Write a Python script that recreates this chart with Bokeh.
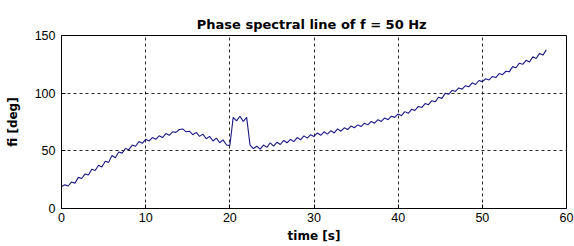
from bokeh.plotting import figure
from bokeh.models import FixedTicker, Range1d
from bokeh.embed import file_html
from bokeh.resources import INLINE

# sampling grid of the recorded signal
t_start = 0.0
t_step = 0.4

# phase of the 50 Hz spectral line [deg]
phase = [
    19, 20.5, 19.5, 23, 22, 27, 26, 30, 29, 34,
    33, 37.5, 36, 41, 40, 46, 44, 49, 48, 52,
    51, 55, 54, 58, 56.5, 60, 58.5, 61.5, 60, 63,
    61.5, 65, 63.5, 66.5, 66, 68.5, 69, 66.5, 67, 64,
    66, 62.5, 64.5, 60.5, 62.5, 58.5, 61, 57, 59.5, 55,
    54.5, 79, 76, 80, 75.5, 79, 55, 52, 54, 51.5,
    55, 53, 57, 54, 57.5, 55.5, 59, 57, 60, 58,
    61.5, 59.5, 63, 61, 64, 62.5, 65.5, 63.5, 66.5, 64.5,
    67.5, 65.5, 69, 67, 70, 68.5, 71.5, 70, 72.5, 71,
    74, 72.5, 75.5, 74, 77, 75.5, 78.5, 77, 80, 79,
    82, 80.5, 84, 82.5, 86, 85, 88.5, 87.5, 91, 90,
    93.5, 92.5, 96.5, 95.5, 100, 99, 102.5, 101.5, 104.5, 103.5,
    106.5, 105.5, 109, 107.5, 111, 110, 112.5, 111.5, 114.5, 113.5,
    117, 116, 119, 118.5, 123, 122, 126, 125, 128.5, 127,
    131.5, 130, 134.5, 133, 137.5,
]
time = [round(t_start + t_step * i, 2) for i in range(len(phase))]

x_ticks = [0, 10, 20, 30, 40, 50, 60]
y_ticks = [0, 50, 100, 150]

title = "Phase spectral line of  f = 50 Hz"
x_label = "time [s]"
y_label = "fi [deg]"

FONT = "Liberation Sans"
BOLD_FONT = "DejaVu Sans"

p = figure(width=574, height=246, output_backend="svg", toolbar_location=None,
           x_range=Range1d(0, 60), y_range=Range1d(0, 150),
           title=title, min_border_left=61, min_border_right=8,
           min_border_top=35, min_border_bottom=38)

p.title.align = "center"
p.title.text_font = BOLD_FONT
p.title.text_font_size = "13px"
p.title.text_font_style = "bold"
p.title.text_color = "black"
p.title.offset = 0
p.title.standoff = 8

p.line(time, phase, line_color="#1a1a86", line_width=1.1)

p.outline_line_color = "black"
p.outline_line_width = 1
p.outline_line_alpha = 1

for ax, ticks in ((p.xaxis, x_ticks), (p.yaxis, y_ticks)):
    ax.ticker = FixedTicker(ticks=ticks)
    ax.major_tick_in = 4
    ax.major_tick_out = 0
    ax.minor_tick_line_color = None
    ax.axis_line_color = "black"
    ax.major_tick_line_color = "black"
    ax.major_label_text_font = FONT
    ax.major_label_text_font_size = "12.5px"
    ax.major_label_text_color = "black"
    ax.axis_label_text_font = BOLD_FONT
    ax.axis_label_text_font_size = "12px"
    ax.axis_label_text_font_style = "bold"
    ax.axis_label_text_color = "black"

p.xaxis.axis_label = x_label
p.yaxis.axis_label = y_label
p.xaxis.major_label_standoff = 4
p.xaxis.axis_label_standoff = 4
p.yaxis.major_label_standoff = 6
p.yaxis.axis_label_standoff = 12

p.xgrid.ticker = FixedTicker(ticks=x_ticks)
p.ygrid.ticker = FixedTicker(ticks=y_ticks)
for g in (p.xgrid, p.ygrid):
    g.grid_line_color = "black"
    g.grid_line_dash = "3 3"
    g.grid_line_width = 1
    g.grid_line_alpha = 0.85

p.background_fill_color = "white"
p.border_fill_color = "white"

open("out.html", "w").write(file_html(p, INLINE))
